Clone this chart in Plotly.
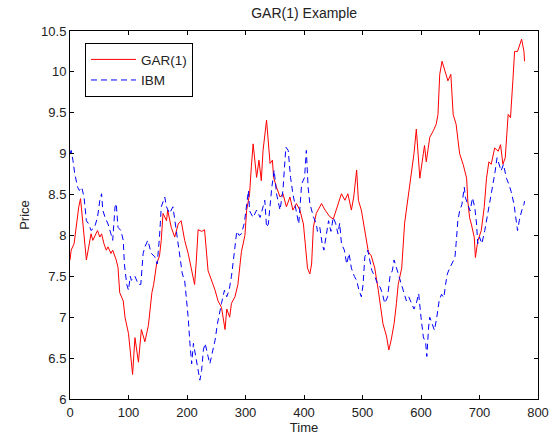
import plotly.graph_objects as go

# GAR(1) series: (time, price) pairs
gar_series = [
    (0,7.7),(2,7.82),(7,7.9),(11,8.14),(15,8.35),(18,8.45),(22,8.18),(25,7.9),(28,7.7),(32,7.86),
    (36,8.02),(39,7.94),(42,7.98),(47,8.06),(51,7.98),(54,8.02),(58,7.9),(62,7.82),(65,7.86),(70,7.78),
    (73,7.82),(79,7.7),(82,7.61),(85,7.3),(91,7.2),(94,7.0),(100,6.8),(105,6.45),(107,6.3),(111,6.75),
    (117,6.45),(122,6.85),(128,6.7),(134,6.9),(140,7.3),(143,7.4),(148,7.65),(153,7.75),(156,7.94),(159,8.27),
    (165,8.18),(167,8.31),(173,8.1),(179,7.98),(185,8.14),(190,8.18),(196,7.94),(202,7.78),(207,7.61),(213,7.4),
    (216,7.7),(219,8.07),(225,8.05),(230,8.07),(236,7.57),(242,7.45),(248,7.33),(253,7.2),(259,7.12),(265,6.85),
    (268,7.1),(273,7.0),(276,7.17),(282,7.25),(287,7.4),(293,7.8),(299,8.0),(302,8.31),(307,8.51),(310,8.84),
    (313,9.12),(319,8.71),(323,8.92),(327,8.67),(330,9.04),(336,9.41),(339,9.08),(342,8.88),(346,8.92),(348,8.71),
    (353,8.59),(359,8.47),(364,8.51),(370,8.35),(376,8.47),(381,8.31),(387,8.39),(393,8.31),(399,8.14),(403,7.8),
    (406,7.6),(410,7.53),(413,7.65),(416,8.1),(421,8.27),(430,8.39),(436,8.31),(444,8.23),(450,8.2),(455,8.31),
    (464,8.51),(470,8.43),(475,8.51),(481,8.31),(485,8.47),(490,8.8),(493,8.43),(498,8.31),(503,8.1),(510,7.8),
    (515,7.75),(521,7.6),(527,7.33),(531,7.1),(535,6.92),(541,6.77),(545,6.6),(549,6.72),(554,6.92),(558,7.17),
    (561,7.4),(567,7.6),(572,8.15),(578,8.47),(584,8.8),(588,9.0),(592,9.3),(598,8.7),(604,9.0),(606,9.1),
    (609,8.9),(615,9.2),(621,9.28),(626,9.36),(629,9.48),(632,9.97),(636,10.13),(641,10.0),(646,9.89),(651,9.97),
    (655,9.48),(660,9.36),(666,9.0),(672,8.87),(678,8.7),(680,8.42),(683,8.22),(686,8.14),(691,7.98),(693,7.73),
    (697,7.93),(703,8.06),(708,8.34),(712,8.7),(716,8.9),(720,8.87),(726,9.07),(732,9.03),(736,9.11),(740,8.87),
    (744,8.95),(749,9.48),(753,9.44),(757,9.89),(760,10.25),(765,10.25),(769,10.33),(772,10.4),(776,10.25),(777,10.13),
]

# IBM series: (time, price) pairs
ibm_series = [
    (0,9.0),(2,9.04),(5,8.92),(8,8.76),(13,8.59),(16,8.55),(20,8.59),(24,8.47),(28,8.18),(32,8.14),
    (36,8.06),(42,8.1),(47,8.22),(51,8.43),(54,8.51),(56,8.31),(60,8.22),(65,8.14),(70,8.02),(73,7.94),
    (77,8.35),(79,8.39),(82,8.1),(87,8.06),(91,7.94),(93,7.65),(97,7.4),(100,7.33),(103,7.5),(105,7.45),
    (111,7.5),(117,7.4),(121,7.4),(125,7.78),(128,7.86),(133,7.94),(139,7.78),(145,7.74),(149,7.65),(153,7.98),
    (156,8.35),(162,8.47),(165,8.35),(170,8.27),(176,8.35),(180,8.14),(185,7.94),(190,7.65),(192,7.53),(196,7.45),
    (199,7.25),(202,7.0),(205,6.68),(208,6.43),(211,6.68),(215,6.52),(218,6.43),(222,6.23),(225,6.35),(228,6.6),
    (231,6.68),(233,6.6),(236,6.52),(239,6.43),(243,6.55),(248,6.72),(252,6.92),(255,7.05),(259,7.17),(264,7.33),
    (268,7.25),(272,7.33),(276,7.5),(281,7.8),(285,8.05),(289,8.0),(293,8.02),(298,8.15),(302,8.35),(305,8.55),
    (307,8.3),(313,8.22),(319,8.31),(325,8.22),(330,8.35),(333,8.43),(336,8.1),(339,8.14),(345,8.59),(349,8.8),
    (353,8.51),(359,8.31),(364,8.55),(369,9.08),(373,9.04),(377,8.71),(381,8.51),(387,8.31),(391,8.14),(396,8.63),
    (401,8.71),(404,9.04),(407,8.59),(410,8.39),(416,8.23),(421,8.14),(423,8.05),(427,8.1),(431,7.9),(434,7.82),
    (438,8.02),(442,8.18),(446,8.05),(450,8.22),(454,8.15),(458,8.02),(461,8.15),(464,7.9),(469,7.82),(473,7.65),
    (477,7.78),(481,7.6),(486,7.5),(490,7.45),(494,7.33),(498,7.25),(501,7.4),(504,7.74),(509,7.82),(512,7.7),
    (516,7.57),(521,7.5),(526,7.4),(530,7.37),(534,7.29),(538,7.17),(543,7.25),(547,7.5),(551,7.57),(554,7.7),
    (558,7.6),(562,7.5),(567,7.37),(571,7.29),(575,7.2),(579,7.25),(584,7.17),(588,7.1),(592,7.17),(596,7.29),
    (600,7.0),(604,6.76),(608,6.68),(610,6.52),(613,6.88),(615,7.0),(619,6.92),(623,6.84),(627,7.0),(631,7.2),
    (635,7.28),(639,7.24),(642,7.4),(645,7.53),(649,7.6),(653,7.65),(658,7.73),(660,7.9),(663,8.18),(666,8.3),
    (670,8.38),(674,8.59),(676,8.46),(680,8.38),(684,8.3),(688,8.46),(692,8.34),(695,8.14),(697,7.9),(700,7.98),
    (704,7.9),(709,8.06),(713,8.22),(717,8.38),(722,8.54),(726,8.75),(730,8.95),(733,8.87),(737,8.79),(741,8.87),
    (746,8.7),(750,8.63),(754,8.54),(759,8.38),(762,8.22),(765,8.06),(768,8.18),(772,8.3),(776,8.38),(777,8.42),
]

gar_time = [p[0] for p in gar_series]
gar_price = [p[1] for p in gar_series]
ibm_time = [p[0] for p in ibm_series]
ibm_price = [p[1] for p in ibm_series]

x_ticks = [0, 100, 200, 300, 400, 500, 600, 700, 800]
y_ticks = [6, 6.5, 7, 7.5, 8, 8.5, 9, 9.5, 10, 10.5]
y_tick_text = ["6", "6.5", "7", "7.5", "8", "8.5", "9", "9.5", "10", "10.5"]

FONT = "Liberation Sans, Arial, Helvetica, sans-serif"
TXT = "#222222"

fig = go.Figure()
fig.add_trace(go.Scatter(x=gar_time, y=gar_price, mode="lines", name="GAR(1)",
                         line=dict(color="#ff0000", width=1)))
fig.add_trace(go.Scatter(x=ibm_time, y=ibm_price, mode="lines", name="IBM",
                         line=dict(color="#0000ff", width=1, dash="6px,4px")))

axis_common = dict(showline=True, linecolor="#000000", linewidth=1, mirror="allticks",
                   ticks="inside", ticklen=4, tickcolor="#000000", showgrid=False,
                   zeroline=False, automargin=False,
                   tickfont=dict(family=FONT, size=13, color=TXT))

fig.update_layout(
    width=553, height=436,
    margin=dict(l=70, r=15, t=31, b=37),
    paper_bgcolor="#ffffff", plot_bgcolor="#ffffff",
    font=dict(family=FONT, size=13, color=TXT),
    title=dict(text="GAR(1) Example", x=0.55, xanchor="center", y=0.97, yanchor="middle",
               font=dict(family=FONT, size=14, color=TXT)),
    xaxis=dict(range=[0, 800], tickvals=x_ticks, ticklabelstandoff=1,
               title=dict(text="Time", standoff=4, font=dict(family=FONT, size=13, color=TXT)),
               **axis_common),
    yaxis=dict(range=[6, 10.5], tickvals=y_ticks, ticktext=y_tick_text,
               title=dict(text="Price", standoff=8, font=dict(family=FONT, size=13, color=TXT)),
               **axis_common),
    legend=dict(x=0.032, y=0.967, xanchor="left", yanchor="top", bgcolor="#ffffff",
                bordercolor="#000000", borderwidth=1, font=dict(family=FONT, size=13.5, color=TXT),
                tracegroupgap=0, itemwidth=45),
    showlegend=True,
)

fig.write_html("out.html")
